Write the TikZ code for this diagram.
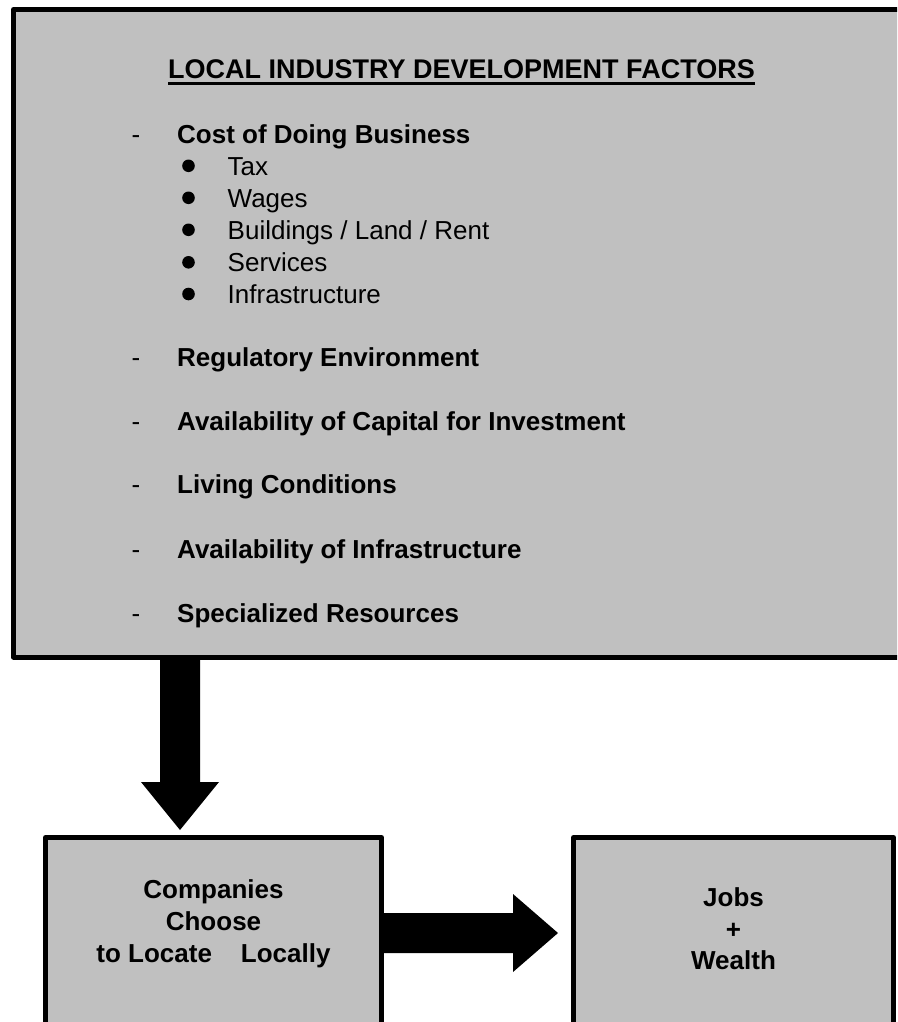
\documentclass[tikz,border=0pt]{standalone}
\usepackage{fontspec}
\setmainfont{Liberation Sans}
\usetikzlibrary{calc}
\definecolor{boxgray}{RGB}{192,192,192}
\begin{document}
\begin{tikzpicture}[x=1pt,y=-1pt,
  box/.style={draw=black, line width=5pt, fill=boxgray, line join=round, inner sep=0pt},
  headtxt/.style={font=\bfseries\fontsize{26}{31}\selectfont, inner sep=0pt, anchor=base west},
  itemtxt/.style={font=\fontsize{26}{31}\selectfont, inner sep=0pt, anchor=base west},
  ctrtxt/.style={font=\bfseries\fontsize{26}{31}\selectfont, inner sep=0pt, anchor=base},
  titletxt/.style={font=\bfseries\fontsize{27}{32}\selectfont, inner sep=0pt, anchor=base},
  dot/.style={circle, fill=black, inner sep=0pt, minimum size=12.6pt},
  blockarrow/.style={fill=black}]
\useasboundingbox (0,0) rectangle (897,1022);
\fill[white] (0,0) rectangle (897,1022);
\clip (0,0) rectangle (897,1022);

% boxes
\node[box, minimum width=901.5pt, minimum height=647.5pt] (factors) at (464.25,333.25) {};
\node[box, minimum width=336pt, minimum height=202.5pt] (cmp) at (213.5,938.75) {};
\node[box, minimum width=320pt, minimum height=202.5pt] (jobs) at (733.5,938.75) {};

% title
\node[titletxt] (title) at (461.5,79) {LOCAL INDUSTRY DEVELOPMENT FACTORS};
\draw[line width=3pt] ([yshift=-4.3pt]title.base west) -- ([yshift=-4.3pt]title.base east);

% cost of doing business
\node[itemtxt] (d1) at (131.5,143) {-};
\node[headtxt] (h1) at (177,143) {Cost of Doing Business};
\node[dot] (b1) at (188.5,165.8) {};
\node[itemtxt] (i1) at (227.5,175) {Tax};
\node[dot] (b2) at (188.5,197.8) {};
\node[itemtxt] (i2) at (227.5,207) {Wages};
\node[dot] (b3) at (188.5,229.8) {};
\node[itemtxt] (i3) at (227.5,239) {Buildings / Land / Rent};
\node[dot] (b4) at (188.5,262.3) {};
\node[itemtxt] (i4) at (227.5,271.5) {Services};
\node[dot] (b5) at (188.5,294) {};
\node[itemtxt] (i5) at (227.5,303.2) {Infrastructure};

% other headings
\node[itemtxt] (d2) at (131.5,366) {-};
\node[headtxt] (h2) at (177,366) {Regulatory Environment};
\node[itemtxt] (d3) at (131.5,430) {-};
\node[headtxt] (h3) at (177,430) {Availability of Capital for Investment};
\node[itemtxt] (d4) at (131.5,493) {-};
\node[headtxt] (h4) at (177,493) {Living Conditions};
\node[itemtxt] (d5) at (131.5,558) {-};
\node[headtxt] (h5) at (177,558) {Availability of Infrastructure};
\node[itemtxt] (d6) at (131.5,622) {-};
\node[headtxt] (h6) at (177,622) {Specialized Resources};

% bottom box texts
\node[ctrtxt] (c1) at (213.5,898) {Companies};
\node[ctrtxt] (c2) at (213.5,930) {Choose};
\node[ctrtxt] (c3) at (213.5,962) {to Locate~~~ Locally};
\node[ctrtxt] (j1) at (733.5,906) {Jobs};
\node[ctrtxt] (j2) at (733.5,938) {+};
\node[ctrtxt] (j3) at (733.5,969) {Wealth};

% block arrows
\coordinate (dtop) at (factors.south -| 180,0);
\coordinate (dtip) at (180,830);
\fill[blockarrow] let \p1=(dtop), \p2=(dtip) in
  (\x1-20pt,\y1) -- (\x1-20pt,\y2+48pt) -- (\x1-39pt,\y2+48pt) -- (\p2)
  -- (\x1+39pt,\y2+48pt) -- (\x1+20pt,\y2+48pt) -- (\x1+20pt,\y1) -- cycle;

\coordinate (hs) at (cmp.east |- 0,933);
\coordinate (ht) at (558,933);
\fill[blockarrow] let \p1=(hs), \p2=(ht) in
  (\x1,\y1+20pt) -- (\x2-45pt,\y1+20pt) -- (\x2-45pt,\y1+39pt) -- (\p2)
  -- (\x2-45pt,\y1-39pt) -- (\x2-45pt,\y1-20pt) -- (\x1,\y1-20pt) -- cycle;
\end{tikzpicture}
\end{document}
